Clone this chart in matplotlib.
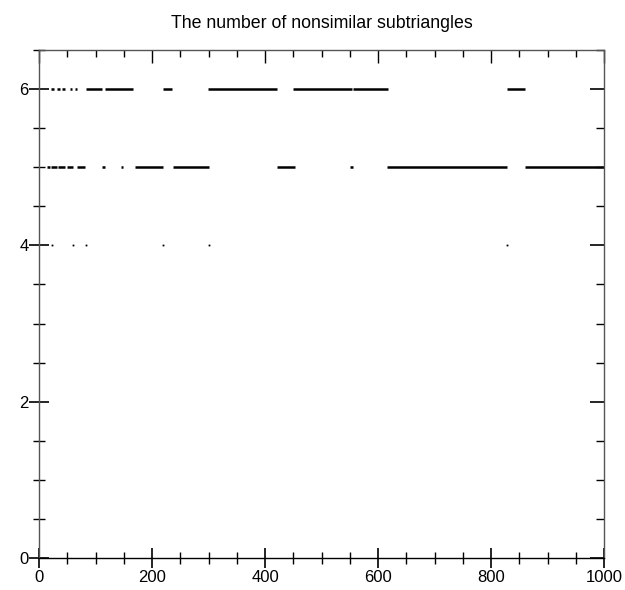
import matplotlib.pyplot as plt
from matplotlib.ticker import MultipleLocator

plt.rcParams['font.family'] = ['Liberation Sans', 'DejaVu Sans']

# runs of n (start, end) where the count equals 6, 5; single n where it is 4
six_start = [22, 31, 40, 55, 64, 84, 117, 220, 299, 450, 556, 828]
six_end = [27, 37, 46, 58, 67, 111, 166, 235, 421, 554, 618, 860]
five_start = [14, 22, 34, 49, 67, 111, 146, 170, 238, 421, 551, 616, 860]
five_end = [19, 31, 46, 61, 81, 117, 149, 220, 300, 453, 556, 828, 1000]
four_x = [23, 61, 84, 220, 301, 828]

fig = plt.figure(figsize=(6.25, 5.9), dpi=100)
ax = fig.add_axes([0.0624, 0.0542, 0.9040, 0.8611])

ax.hlines([6] * len(six_start), six_start, six_end, color='black', lw=1.8)
ax.hlines([5] * len(five_start), five_start, five_end, color='black', lw=1.8)
ax.plot(four_x, [4] * len(four_x), 's', color='black', ms=1.3, mew=0)

ax.set_xlim(0, 1000)
ax.set_ylim(0, 6.5)
ax.xaxis.set_major_locator(MultipleLocator(200))
ax.xaxis.set_minor_locator(MultipleLocator(50))
ax.yaxis.set_major_locator(MultipleLocator(2))
ax.yaxis.set_minor_locator(MultipleLocator(0.5))
ax.tick_params(which='major', direction='inout', length=15, width=1.2,
               labelsize=12, color='black')
ax.tick_params(which='minor', direction='inout', length=9, width=1,
               color='black')
ax.tick_params(axis='y', pad=0)
ax.tick_params(axis='x', pad=1)
for s in ax.spines.values():
    s.set_color('#555555')
    s.set_linewidth(1)
ax.spines['bottom'].set_color('black')

top = ax.secondary_xaxis('top')
top.xaxis.set_major_locator(MultipleLocator(200))
top.xaxis.set_minor_locator(MultipleLocator(50))
top.tick_params(which='major', direction='in', length=9, width=1, labeltop=False)
top.tick_params(which='minor', direction='in', length=5, width=1)
top.spines['top'].set_visible(False)

right = ax.secondary_yaxis('right')
right.yaxis.set_major_locator(MultipleLocator(2))
right.yaxis.set_minor_locator(MultipleLocator(0.5))
right.tick_params(which='major', direction='in', length=10, width=1.2, labelright=False)
right.tick_params(which='minor', direction='in', length=6, width=1)
right.spines['right'].set_visible(False)

ax.set_title('The number of nonsimilar subtriangles', fontsize=12.8, pad=16)

fig.savefig('out.png', dpi=100)
